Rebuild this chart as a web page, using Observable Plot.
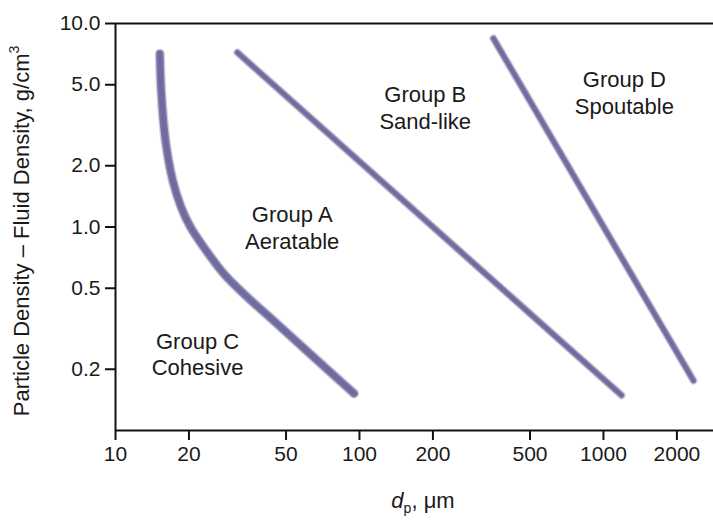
<!DOCTYPE html>
<html>
<head>
<meta charset="utf-8">
<script src="https://cdn.jsdelivr.net/npm/d3@7"></script>
<script src="https://cdn.jsdelivr.net/npm/@observablehq/plot@0.6"></script>
<style>
  html, body { margin: 0; padding: 0; background: #fff; }
</style>
</head>
<body>
<div id="chart"></div>
<script>
// Boundary C / A (curved)
const caX = [15.2, 15.39, 16.03, 17.17, 18.59, 20.3, 23.0, 27.8, 33.6, 46.0, 65.0, 95.0];
const caY = [7.1, 4.69, 2.66, 1.69, 1.25, 0.998, 0.796, 0.589, 0.469, 0.334, 0.229, 0.152];
// Boundary A / B (straight)
const abX = [31.6, 1186];
const abY = [7.2, 0.149];
// Boundary B / D (straight)
const bdX = [354, 2339];
const bdY = [8.44, 0.176];
// Region labels
const groupNames = ["Group A\nAeratable", "Group B\nSand-like", "Group C\nCohesive", "Group D\nSpoutable"];
const groupX = [53, 186, 21.7, 1218];
const groupY = [1.0, 3.9, 0.239, 4.6];
// Ticks
const xTicks = [10, 20, 50, 100, 200, 500, 1000, 2000];
const yTicks = [10, 5, 2, 1, 0.5, 0.2];
const yTickLabels = ["10.0", "5.0", "2.0", "1.0", "0.5", "0.2"];

const toPts = (xs, ys) => xs.map((x, i) => ({x, y: ys[i]}));
const curves = [
  {pts: toPts(caX, caY), curve: "catmull-rom", w: 10},
  {pts: toPts(abX, abY), curve: "linear", w: 8},
  {pts: toPts(bdX, bdY), curve: "linear", w: 8}
];
const labels = groupNames.map((t, i) => ({t, x: groupX[i], y: groupY[i]}));

const lineColor = "#6f6b9d";
const bandMarks = curves.flatMap(c => [
  Plot.line(c.pts, {x: "x", y: "y", curve: c.curve, stroke: lineColor, strokeWidth: c.w, strokeOpacity: 0.35, strokeLinecap: "round"}),
  Plot.line(c.pts, {x: "x", y: "y", curve: c.curve, stroke: lineColor, strokeWidth: c.w - 2.5, strokeOpacity: 0.85, strokeLinecap: "round"}),
  Plot.line(c.pts, {x: "x", y: "y", curve: c.curve, stroke: "#67639a", strokeWidth: c.w - 5.5, strokeOpacity: 0.6, strokeLinecap: "round"})
]);

const fam = "'Liberation Sans', Arial, Helvetica, sans-serif";
const chart = Plot.plot({
  width: 713,
  height: 520,
  marginLeft: 115,
  marginRight: 0,
  marginTop: 23,
  marginBottom: 90,
  style: {fontFamily: fam, fontSize: "21px", color: "#111", background: "#fff"},
  x: {type: "log", domain: [10, 2825]},
  y: {type: "log", domain: [0.1, 10]},
  marks: [
    ...bandMarks,
    Plot.text(labels, {x: "x", y: "y", text: "t", fontSize: 22, lineHeight: 1.22, lineAnchor: "middle", textAnchor: "middle", fill: "#1a1a1a"}),
    Plot.ruleY([10], {stroke: "#111", strokeWidth: 2}),
    Plot.ruleY([0.1], {stroke: "#111", strokeWidth: 2}),
    Plot.ruleX([10], {stroke: "#111", strokeWidth: 2}),
    Plot.axisX({ticks: xTicks, tickFormat: d => String(d), tickSize: 10, tickPadding: 6, strokeWidth: 2, stroke: "#111", label: null, fill: "#1a1a1a"}),
    Plot.axisY({ticks: yTicks, tickFormat: d => yTickLabels[yTicks.indexOf(d)], tickSize: 10, tickPadding: 5, strokeWidth: 2, stroke: "#111", label: null, fill: "#1a1a1a"})
  ]
});

document.getElementById("chart").appendChild(chart);

const svg = d3.select(chart);
// Y axis title
const yl = svg.append("text")
  .attr("transform", "translate(23,231) rotate(-90)")
  .attr("text-anchor", "middle")
  .attr("dominant-baseline", "middle")
  .attr("font-family", fam)
  .attr("font-size", 22)
  .attr("fill", "#1a1a1a");
yl.append("tspan").text("Particle Density \u2013 Fluid Density, g/cm");
yl.append("tspan").attr("font-size", 14).attr("dy", -8).text("3");

// X axis title
const xl = svg.append("text")
  .attr("x", 423)
  .attr("y", 508)
  .attr("text-anchor", "middle")
  .attr("font-family", fam)
  .attr("font-size", 22)
  .attr("fill", "#1a1a1a");
xl.append("tspan").attr("font-style", "italic").text("d");
xl.append("tspan").attr("font-size", 14).attr("dy", 5).text("p");
xl.append("tspan").attr("dy", -5).text(", \u03bcm");
</script>
</body>
</html>
